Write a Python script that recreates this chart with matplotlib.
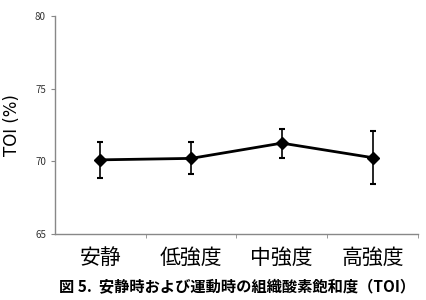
import matplotlib
matplotlib.use("Agg")
import matplotlib.pyplot as plt
import numpy as np

plt.rcParams["font.family"] = ["Noto Sans CJK JP", "DejaVu Sans"]

categories = ["安静", "低強度", "中強度", "高強度"]
toi_mean = [70.1, 70.2, 71.25, 70.25]
toi_sd = [1.25, 1.1, 1.0, 1.8]
caption = "図 5.  安静時および運動時の組織酸素飽和度（TOI）"

fig = plt.figure(figsize=(4.26, 3.0), dpi=100)
ax = fig.add_axes([0.129, 0.22, 0.852, 0.727])

x = np.arange(len(categories))
ax.errorbar(x, toi_mean, yerr=toi_sd, color="black", linewidth=2.0,
            marker="D", markersize=6, elinewidth=1.2, capsize=2.5, capthick=1.5)

ax.set_xlim(-0.5, len(categories) - 0.5)
ax.set_ylim(65, 80)
ax.set_yticks([65, 70, 75, 80])
ax.set_xticks(x)
ax.set_xticklabels(categories, fontsize=15)
ax.set_xticks(np.arange(len(categories)) + 0.5, minor=True)
ax.tick_params(axis="x", which="major", length=0, pad=9, colors="black")
ax.tick_params(axis="x", which="minor", length=3, color="#888888", direction="out")
ax.tick_params(axis="y", length=3, color="#888888", labelsize=7, labelcolor="#333333")

for side in ["top", "right"]:
    ax.spines[side].set_visible(False)
for side in ["left", "bottom"]:
    ax.spines[side].set_color("#888888")
    ax.spines[side].set_linewidth(1.0)

ax.set_ylabel("TOI (%)", fontsize=12, family="DejaVu Sans", labelpad=10)
fig.text(0.556, 0.043, caption, ha="center", va="center", fontsize=11, fontweight="bold")

fig.savefig("out.png", dpi=100)
